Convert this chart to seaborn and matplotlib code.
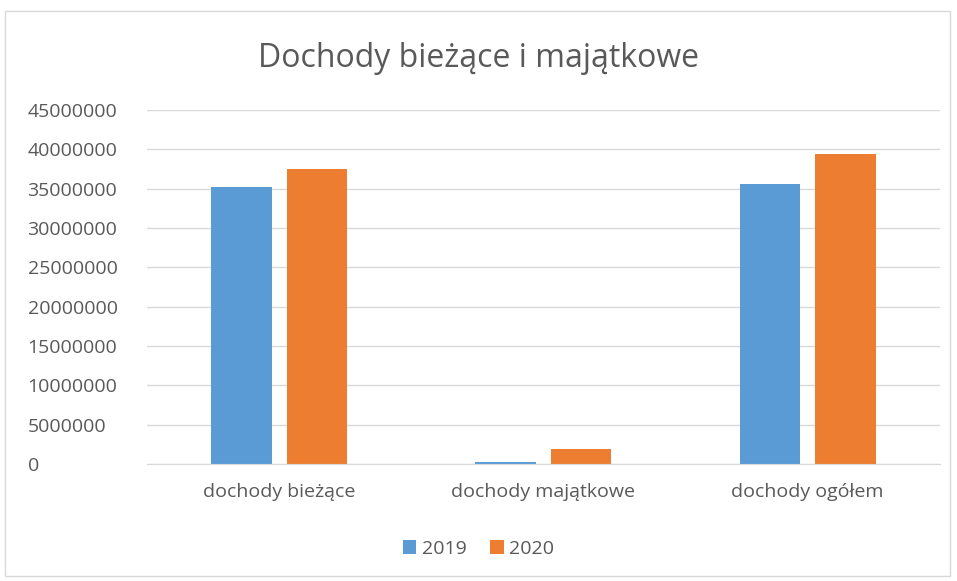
import pandas as pd
import matplotlib.pyplot as plt
import seaborn as sns
from matplotlib.patches import Rectangle

categories = ['dochody bieżące', 'dochody majątkowe', 'dochody ogółem']
values_2019 = [35250000, 300000, 35550000]
values_2020 = [37450000, 1900000, 39400000]
years = ['2019', '2020']
yticks = list(range(0, 45000001, 5000000))

df = pd.DataFrame({
    'kategoria': categories * 2,
    'rok': [years[0]] * 3 + [years[1]] * 3,
    'wartosc': values_2019 + values_2020,
})

sns.set_style('white')
plt.rcParams['font.family'] = ['Open Sans', 'DejaVu Sans']
text_color = '#595959'

fig = plt.figure(figsize=(9.57, 5.81), dpi=100)
ax = fig.add_axes([0.1536, 0.2014, 0.8284, 0.6093])

sns.barplot(data=df, x='kategoria', y='wartosc', hue='rok',
            palette=['#5b9bd5', '#ed7d31'], width=0.572, gap=0.2,
            saturation=1, linewidth=0, ax=ax)

ax.set_ylim(0, 45000000)
ax.set_yticks(yticks)
ax.set_yticklabels([str(v) for v in yticks])
ax.yaxis.grid(True, color='#d9d9d9', linewidth=1)
ax.set_axisbelow(True)
for s in ['top', 'right', 'left']:
    ax.spines[s].set_visible(False)
ax.spines['bottom'].set_color('#d9d9d9')
ax.tick_params(axis='both', length=0, labelsize=14, colors=text_color)
ax.tick_params(axis='x', pad=14)
ax.tick_params(axis='y', pad=86)
for lbl in ax.get_yticklabels():
    lbl.set_horizontalalignment('left')
ax.set_xlabel('')
ax.set_ylabel('')

fig.text(0.5, 0.9, 'Dochody bieżące i majątkowe', ha='center', va='center',
         fontsize=23, color=text_color)

ax.legend(loc='center', bbox_to_anchor=(0.5, 0.055), bbox_transform=fig.transFigure,
          ncol=2, frameon=False, fontsize=14, labelcolor=text_color,
          handlelength=0.7, handleheight=0.7, handletextpad=0.3, columnspacing=1.2)

fig.patches.append(Rectangle((5 / 957, 5 / 581), 945 / 957, 565 / 581,
                             transform=fig.transFigure, fill=False,
                             edgecolor='#d9d9d9', linewidth=1))

fig.savefig('out.png', dpi=100)
